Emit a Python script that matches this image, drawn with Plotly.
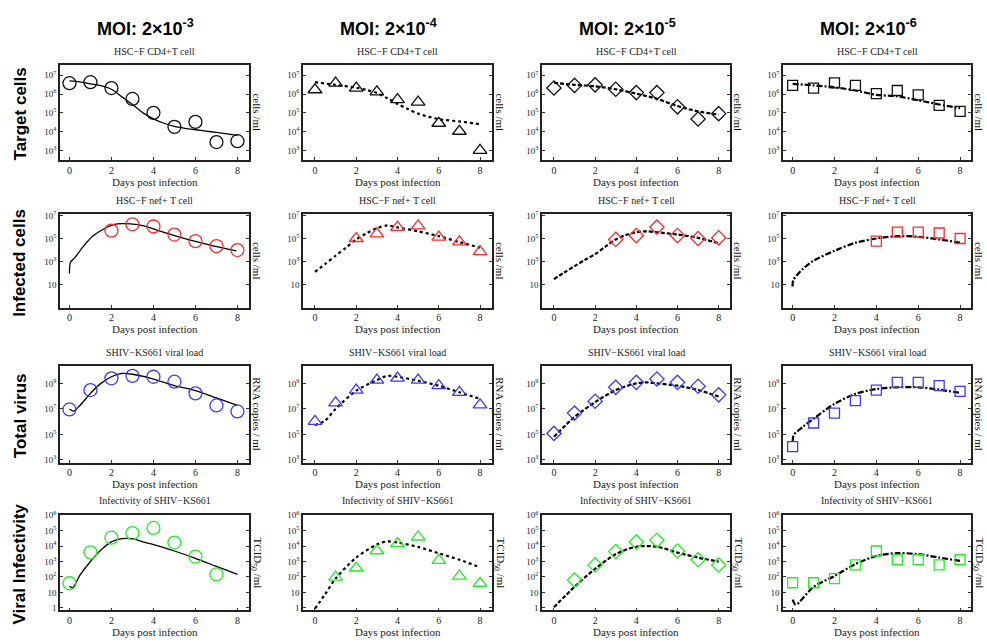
import plotly.graph_objects as go

W, H = 987, 643

# ---------------- data ----------------
days = [0, 1, 2, 3, 4, 5, 6, 7, 8]

moi_labels = ["2×10<sup>-3</sup>", "2×10<sup>-4</sup>", "2×10<sup>-5</sup>", "2×10<sup>-6</sup>"]
row_labels = ["Target cells", "Infected cells", "Total virus", "Viral Infectivity"]
panel_titles = ["HSC−F CD4+T cell", "HSC−F nef+ T cell", "SHIV−KS661 viral load", "Infectivity of SHIV−KS661"]
unit_labels = ["cells /ml", "cells /ml", "RNA copies / ml", "TCID<sub>50</sub> /ml"]
x_title = "Days post infection"

# Target cells (cells/ml) - observed
target_obs_m3 = [3.8e6, 4.3e6, 2.1e6, 5.5e5, 1.0e5, 1.8e4, 3.3e4, 2.8e3, 3.1e3]
target_obs_m4 = [1.7e6, 3.8e6, 2.1e6, 1.3e6, 5.1e5, 3.7e5, 2.8e4, 1.05e4, 1.0e3]
target_obs_m5 = [2.1e6, 2.9e6, 3.1e6, 1.8e6, 1.2e6, 1.2e6, 2.1e5, 4.7e4, 9.1e4]
target_obs_m6 = [2.9e6, 2.1e6, 4.0e6, 2.9e6, 1.05e6, 1.55e6, 9.1e5, 2.5e5, 1.2e5]
# Target cells - model
target_fit_t_m3 = [0, 0.5, 1, 1.5, 2, 2.5, 3, 3.5, 4, 4.5, 5, 5.5, 6, 6.5, 7, 7.5, 8]
target_fit_m3 = [5.0e6, 4.5e6, 3.5e6, 2.8e6, 1.8e6, 7.1e5, 2.8e5, 1.0e5, 4.8e4, 2.8e4, 1.9e4, 1.5e4, 1.26e4, 1.07e4, 9.1e3, 7.6e3, 6.3e3]
target_fit_t_m4 = [0, 1, 2, 2.5, 3, 3.5, 4, 4.5, 5, 6, 7, 8]
target_fit_m4 = [4.3e6, 3.1e6, 2.2e6, 1.66e6, 1.15e6, 6.0e5, 3.0e5, 1.6e5, 9.1e4, 4.6e4, 3.5e4, 2.5e4]
target_fit_t_m5 = [0, 1, 2, 3, 4, 5, 6, 7, 8]
target_fit_m5 = [4.0e6, 3.1e6, 2.6e6, 1.8e6, 1.05e6, 5.6e5, 2.3e5, 1.2e5, 8.1e4]
target_fit_t_m6 = [0, 1, 2, 3, 4, 5, 6, 7, 8]
target_fit_m6 = [3.5e6, 2.9e6, 2.3e6, 1.55e6, 9.1e5, 7.6e5, 4.7e5, 2.8e5, 1.8e5]

# Infected cells (cells/ml) - observed
infected_obs_days_m3 = [2, 3, 4, 5, 6, 7, 8]
infected_obs_m3 = [4.8e5, 1.7e6, 1.1e6, 2.2e5, 5.9e4, 2.2e4, 1.0e4]
infected_obs_days_m4 = [2, 3, 4, 5, 6, 7, 8]
infected_obs_m4 = [1.0e5, 2.5e5, 9.1e5, 1.26e6, 1.3e5, 5.2e4, 7.4e3]
infected_obs_days_m5 = [3, 4, 5, 6, 7, 8]
infected_obs_m5 = [8.3e4, 1.8e5, 9.8e5, 1.8e5, 1.0e5, 1.15e5]
infected_obs_days_m6 = [4, 5, 6, 7, 8]
infected_obs_m6 = [5.9e4, 3.6e5, 3.6e5, 3.0e5, 1.0e5]
# Infected cells - model
infected_fit_t_m3 = [0, 0.05, 0.27, 0.67, 1.15, 1.63, 2.0, 2.27, 2.9, 3.55, 4.2, 5.0, 5.95, 6.9, 7.95]
infected_fit_m3 = [91, 870, 2.3e3, 2.2e4, 1.8e5, 6.6e5, 1.35e6, 1.86e6, 1.86e6, 1.26e6, 5.0e5, 1.8e5, 5.9e4, 2.2e4, 8.5e3]
infected_fit_t_m4 = [0, 0.5, 1, 1.5, 2, 2.5, 3, 3.5, 4, 5, 6, 7, 8]
infected_fit_m4 = [126, 630, 3.2e3, 1.6e4, 8.3e4, 2.8e5, 7.9e5, 1.35e6, 9.1e5, 4.2e5, 1.6e5, 4.9e4, 1.6e4]
infected_fit_t_m5 = [0, 0.5, 1, 1.5, 2, 2.5, 3, 3.5, 4, 4.5, 5, 6, 7, 8]
infected_fit_m5 = [30, 112, 400, 1.4e3, 4.5e3, 2.0e4, 8.3e4, 2.0e5, 3.5e5, 4.2e5, 3.5e5, 2.2e5, 1.15e5, 3.8e4]
infected_fit_t_m6 = [0, 0.03, 0.5, 1, 2, 3, 4, 5, 6, 7, 8]
infected_fit_m6 = [6.8, 25, 240, 1.2e3, 8.5e3, 4.3e4, 1.0e5, 1.6e5, 1.4e5, 8.3e4, 4.3e4]

# Total virus (RNA copies/ml) - observed
virus_obs_m3 = [9.1e6, 3.0e8, 2.5e9, 3.9e9, 3.3e9, 1.35e9, 1.66e8, 1.86e7, 6.3e6]
virus_obs_m4 = [1.07e6, 3.0e7, 3.0e8, 1.8e9, 2.6e9, 1.8e9, 6.6e8, 2.0e8, 2.1e7]
virus_obs_m5 = [1.2e5, 4.7e6, 4.0e7, 4.9e8, 1.2e9, 2.2e9, 1.2e9, 5.9e8, 1.26e8]
virus_obs_m6 = [1.1e4, 7.9e5, 4.7e6, 4.5e7, 3.0e8, 1.2e9, 1.2e9, 6.6e8, 2.4e8]
# Total virus - model
virus_fit_t_m3 = [0, 0.2, 0.5, 1, 1.5, 2, 2.5, 3, 4, 5, 6, 7, 8]
virus_fit_m3 = [1.0e7, 6.8e6, 1.86e7, 1.66e8, 1.0e9, 3.3e9, 6.0e9, 5.2e9, 2.2e9, 6.6e8, 2.7e8, 7.2e7, 1.86e7]
virus_fit_t_m4 = [0, 0.5, 1, 2, 3, 3.5, 4, 5, 6, 7, 8]
virus_fit_m4 = [5.2e5, 1.26e6, 1.0e7, 2.7e8, 1.8e9, 3.9e9, 3.3e9, 1.6e9, 6.6e8, 2.0e8, 6.2e7]
virus_fit_t_m5 = [0, 1, 2, 3, 4, 4.5, 5, 6, 7, 8]
virus_fit_m5 = [6.5e4, 2.3e6, 3.4e7, 3.0e8, 1.0e9, 1.2e9, 1.0e9, 6.6e8, 3.0e8, 9.3e7]
virus_fit_t_m6 = [0, 0.05, 0.5, 1, 2, 3, 4, 5, 6, 7, 8]
virus_fit_m6 = [2.7e4, 8.9e4, 4.0e5, 1.7e6, 2.5e7, 1.5e8, 3.6e8, 4.9e8, 4.9e8, 3.2e8, 1.8e8]

# Viral infectivity (TCID50/ml) - observed
infect_obs_days_m3 = [0, 1, 2, 3, 4, 5, 6, 7]
infect_obs_m3 = [39, 3.9e3, 3.5e4, 6.9e4, 1.5e5, 1.7e4, 2.1e3, 145]
infect_obs_days_m4 = [1, 2, 3, 4, 5, 6, 7, 8]
infect_obs_m4 = [98, 380, 5.0e3, 1.45e4, 3.9e4, 1.2e3, 112, 39]
infect_obs_days_m5 = [1, 2, 3, 4, 5, 6, 7, 8]
infect_obs_m5 = [62, 600, 4.4e3, 1.86e4, 2.4e4, 4.8e3, 1.3e3, 600]
infect_obs_days_m6 = [0, 1, 2, 3, 4, 5, 6, 7, 8]
infect_obs_m6 = [42, 42, 78, 600, 4.8e3, 1.3e3, 1.3e3, 600, 1.3e3]
# Viral infectivity - model
infect_fit_t_m3 = [0, 0.15, 0.5, 1, 1.5, 2, 2.5, 3, 3.5, 4, 5, 6, 7, 8]
infect_fit_m3 = [25, 20, 129, 1.0e3, 5.5e3, 1.86e4, 3.0e4, 3.0e4, 1.86e4, 1.26e4, 4.8e3, 1.6e3, 480, 145]
infect_fit_t_m4 = [0, 0.5, 1, 2, 3, 3.5, 4, 5, 6, 7, 8]
infect_fit_m4 = [0.87, 7.8, 79, 1.8e3, 1.26e4, 2.0e4, 1.7e4, 8.9e3, 3.4e3, 1.3e3, 420]
infect_fit_t_m5 = [0, 1, 2, 3, 4, 5, 6, 7, 8]
infect_fit_m5 = [1.1, 23, 340, 3.0e3, 9.1e3, 9.1e3, 3.8e3, 1.8e3, 980]
infect_fit_t_m6 = [0, 0.15, 1, 2, 3, 4, 5, 6, 7, 8]
infect_fit_m6 = [3.4, 1.6, 23, 115, 690, 2.3e3, 3.5e3, 3.0e3, 1.8e3, 1.1e3]

x_tickvals = [0, 2, 4, 6, 8]
y_tickvals = [
    [1e3, 1e4, 1e5, 1e6, 1e7],
    [10, 1e3, 1e5, 1e7],
    [1e3, 1e5, 1e7, 1e9],
    [1, 10, 1e2, 1e3, 1e4, 1e5, 1e6],
]
y_ticktext = [
    ["10<sup>3</sup>", "10<sup>4</sup>", "10<sup>5</sup>", "10<sup>6</sup>", "10<sup>7</sup>"],
    ["10", "10<sup>3</sup>", "10<sup>5</sup>", "10<sup>7</sup>"],
    ["10<sup>3</sup>", "10<sup>5</sup>", "10<sup>7</sup>", "10<sup>9</sup>"],
    ["1", "10", "10<sup>2</sup>", "10<sup>3</sup>", "10<sup>4</sup>", "10<sup>5</sup>", "10<sup>6</sup>"],
]

# ---------------- assembly ----------------
obs = [
    [(days, target_obs_m3), (days, target_obs_m4), (days, target_obs_m5), (days, target_obs_m6)],
    [(infected_obs_days_m3, infected_obs_m3), (infected_obs_days_m4, infected_obs_m4),
     (infected_obs_days_m5, infected_obs_m5), (infected_obs_days_m6, infected_obs_m6)],
    [(days, virus_obs_m3), (days, virus_obs_m4), (days, virus_obs_m5), (days, virus_obs_m6)],
    [(infect_obs_days_m3, infect_obs_m3), (infect_obs_days_m4, infect_obs_m4),
     (infect_obs_days_m5, infect_obs_m5), (infect_obs_days_m6, infect_obs_m6)],
]
fits = [
    [(target_fit_t_m3, target_fit_m3), (target_fit_t_m4, target_fit_m4),
     (target_fit_t_m5, target_fit_m5), (target_fit_t_m6, target_fit_m6)],
    [(infected_fit_t_m3, infected_fit_m3), (infected_fit_t_m4, infected_fit_m4),
     (infected_fit_t_m5, infected_fit_m5), (infected_fit_t_m6, infected_fit_m6)],
    [(virus_fit_t_m3, virus_fit_m3), (virus_fit_t_m4, virus_fit_m4),
     (virus_fit_t_m5, virus_fit_m5), (virus_fit_t_m6, virus_fit_m6)],
    [(infect_fit_t_m3, infect_fit_m3), (infect_fit_t_m4, infect_fit_m4),
     (infect_fit_t_m5, infect_fit_m5), (infect_fit_t_m6, infect_fit_m6)],
]

# styling
col_box = [(60, 249), (303, 492), (542, 730), (783, 971)]
row_box = [(60, 156), (211, 306), (365, 463), (516, 613)]
x_ranges = [[-0.45, 8.55], [-0.58, 8.58], [-0.58, 8.55], [-0.46, 8.52]]
y_ranges = [[2.5, 7.54], [-1.0, 7.12], [2.8, 10.37], [-0.17, 6.03]]
row_colors = ["#111111", "#ff2a2a", "#3a3aff", "#22ee22"]
col_symbols = ["circle-open", "triangle-up-open", "diamond-open", "square-open"]
col_msize = [13, 12, 11, 10]
col_dash = ["solid", "dot", "4px,2px", "6px,2px,2px,2px"]
col_lwidth = [1.3, 2.2, 2.2, 2.2]

SERIF = "Liberation Serif"
SANS = "Liberation Sans"


def px(x):
    return x / W


def py(y):
    return 1 - y / H


fig = go.Figure()
annotations = []

for r in range(4):
    for c in range(4):
        idx = r * 4 + c + 1
        xa = "x" if idx == 1 else f"x{idx}"
        ya = "y" if idx == 1 else f"y{idx}"
        ft, fv = fits[r][c]
        fig.add_trace(go.Scatter(
            x=ft, y=fv, mode="lines", xaxis=xa, yaxis=ya, showlegend=False,
            line=dict(color="black", width=col_lwidth[c], dash=col_dash[c], shape="spline", smoothing=0.8),
            hoverinfo="skip"))
        ot, ov = obs[r][c]
        fig.add_trace(go.Scatter(
            x=ot, y=ov, mode="markers", xaxis=xa, yaxis=ya, showlegend=False,
            marker=dict(symbol=col_symbols[c], size=col_msize[c], color=row_colors[r],
                        line=dict(color=row_colors[r], width=1.3))))

        x0, x1 = col_box[c]
        y0, y1 = row_box[r]
        key = "" if idx == 1 else str(idx)
        fig.update_layout(**{
            f"xaxis{key}": dict(
                domain=[px(x0), px(x1)], anchor=ya, range=x_ranges[c],
                tickvals=x_tickvals, ticks="inside", ticklen=3, tickcolor="#333",
                showline=True, linecolor="#222", linewidth=1.5, mirror=True,
                showgrid=False, zeroline=False,
                tickfont=dict(family=SERIF, size=10, color="#222"),
            ),
            f"yaxis{key}": dict(
                domain=[py(y1), py(y0)], anchor=xa, type="log", range=y_ranges[r],
                tickvals=y_tickvals[r], ticktext=y_ticktext[r],
                ticks="inside", ticklen=3, tickcolor="#333",
                showline=True, linecolor="#222", linewidth=1.5, mirror="ticks",
                showgrid=False, zeroline=False,
                tickfont=dict(family=SERIF, size=9, color="#222"),
            ),
        })
        # panel title
        annotations.append(dict(
            x=px((x0 + x1) / 2), y=py(y0 - 14), xref="paper", yref="paper",
            text=panel_titles[r], showarrow=False, xanchor="center", yanchor="middle",
            font=dict(family=SERIF, size=10, color="#222")))
        # x-axis title
        annotations.append(dict(
            x=px((x0 + x1) / 2), y=py(y1 + 22), xref="paper", yref="paper",
            text=x_title, showarrow=False, xanchor="center", yanchor="middle",
            font=dict(family=SERIF, size=11, color="#222")))
        # unit label on right
        annotations.append(dict(
            x=px(x1 + 8), y=py((y0 + y1) / 2), xref="paper", yref="paper",
            text=unit_labels[r], showarrow=False, textangle=90, xanchor="center", yanchor="middle",
            font=dict(family=SERIF, size=11, color="#111")))

# column titles
for c in range(4):
    x0, x1 = col_box[c]
    annotations.append(dict(
        x=px((x0 + x1) / 2 - 9), y=py(22), xref="paper", yref="paper",
        text="<b>MOI: " + moi_labels[c] + "</b>", showarrow=False,
        xanchor="center", yanchor="middle",
        font=dict(family=SANS, size=18, color="black")))

# row labels
for r in range(4):
    y0, y1 = row_box[r]
    annotations.append(dict(
        x=px(20), y=py((y0 + y1) / 2 + 2), xref="paper", yref="paper",
        text="<b>" + row_labels[r] + "</b>", showarrow=False, textangle=-90,
        xanchor="center", yanchor="middle",
        font=dict(family=SANS, size=17, color="black")))

fig.update_layout(
    width=W, height=H, margin=dict(l=0, r=0, t=0, b=0),
    paper_bgcolor="white", plot_bgcolor="white",
    annotations=annotations,
)

fig.write_html("out.html", config={"displayModeBar": False},
               post_script="document.body.style.margin='0';document.body.style.padding='0';document.body.style.overflow='hidden';")
